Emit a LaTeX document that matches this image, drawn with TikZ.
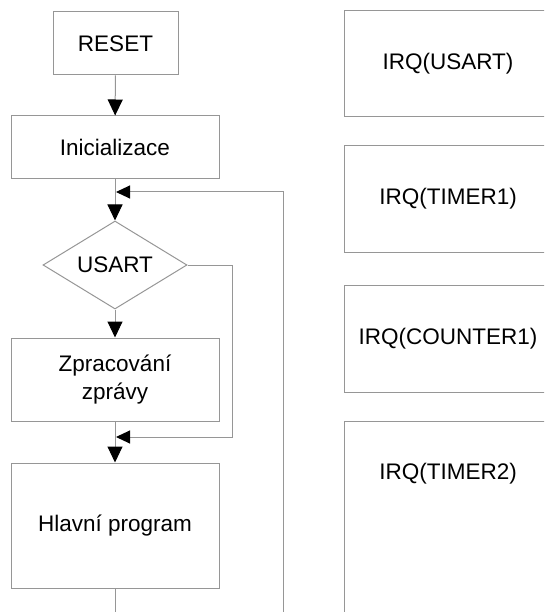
\documentclass[tikz,border=0pt]{standalone}
\usepackage{fontspec}
\setmainfont{Liberation Sans}
\usetikzlibrary{arrows.meta,shapes.geometric}

\definecolor{boxgray}{RGB}{150,150,150}

\tikzset{
  block/.style={draw=boxgray, line width=1pt, minimum width=208pt, inner sep=0pt,
    font=\fontsize{22.5}{28}\selectfont, align=center},
  decision/.style={diamond, draw=boxgray, line width=1pt, aspect=1.64, inner sep=0pt,
    minimum width=144pt, minimum height=88pt, font=\fontsize{22.5}{28}\selectfont},
  flow/.style={draw=boxgray, line width=1pt, -{Triangle[length=16pt,width=15pt,color=black]}},
  joinflow/.style={draw=boxgray, line width=1pt, -{Triangle[length=14pt,width=13pt,color=black]}},
  wire/.style={draw=boxgray, line width=1pt},
  irqtext/.style={font=\fontsize{22.5}{28}\selectfont}
}

\begin{document}
\begin{tikzpicture}[x=1pt,y=1pt,yscale=-1,xscale=1]
  \useasboundingbox (0,0) rectangle (544,612);
  \clip (0,0) rectangle (544,612);

  % main loop
  \node[block, minimum width=125pt, minimum height=63pt] (reset) at (115.5,43.5) {RESET};
  \node[block, minimum height=63pt] (init) at (115,147.5) {Inicializace};
  \node[decision] (usart) at (115,265) {USART};
  \node[block, minimum height=83pt] (zprac) at (115,379.5) {Zpracování\\zprávy};
  \node[block, minimum height=125pt] (hlavni) at (115,525.5) {Hlavní program};

  \coordinate (merge1) at (116,192);
  \coordinate (merge2) at (116,437);
  \coordinate (skip) at (232,437);
  \coordinate (bottom) at (115,640);
  \coordinate (back) at (283,192);

  \draw[flow] (reset) -- (init);
  \draw[flow] (init) -- (usart);
  \draw[flow] (usart) -- (zprac);
  \draw[flow] (zprac) -- (hlavni);
  \draw[joinflow] (usart.east) -| (skip) -- (merge2);
  \draw[joinflow] (hlavni) -- (bottom) -| (back) -- (merge1);

  % interrupt routines
  \node[block, minimum height=106pt] (irqusart) at (448,64) {IRQ(USART)};
  \node[block, minimum height=106pt] (irqtimer1) at (448,199) {IRQ(TIMER1)};
  \node[block, minimum height=107pt] (irqcounter1) at (448,338.5) {IRQ(COUNTER1)};
  \draw[wire] (344,421) rectangle (552,660);
  \node[irqtext] (irqtimer2) at (448,474) {IRQ(TIMER2)};
\end{tikzpicture}
\end{document}
